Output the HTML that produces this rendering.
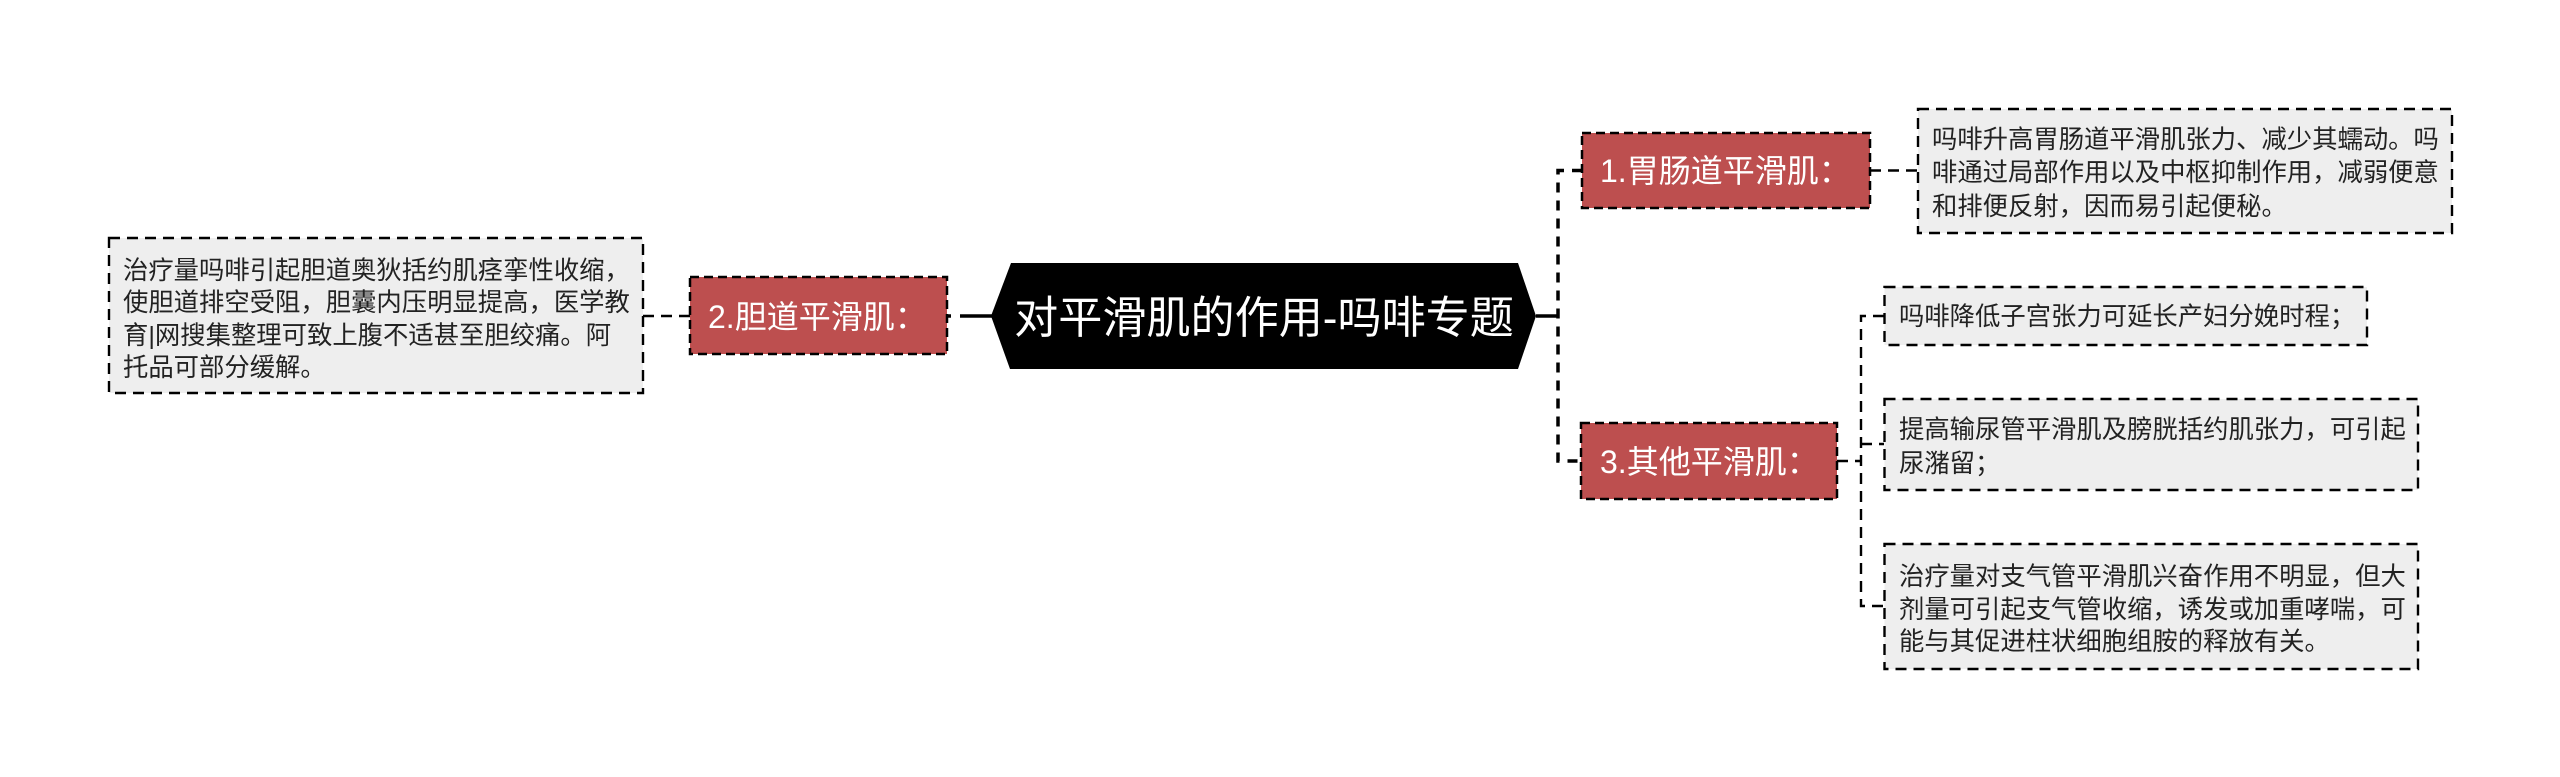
<!DOCTYPE html>
<html><head><meta charset="utf-8"><style>
html,body{margin:0;padding:0;background:#fff;width:2560px;height:777px;overflow:hidden}
svg{display:block}
text{font-family:"Liberation Sans","Noto Sans CJK SC",sans-serif}
.t{font-size:25.35px;fill:#222}
.b{font-size:32px;fill:#fff}
</style></head><body>
<svg width="2560" height="777" viewBox="0 0 2560 777" xmlns="http://www.w3.org/2000/svg">
<rect width="2560" height="777" fill="#fff"/>
<!-- connectors -->
<g fill="none" stroke="#000" stroke-width="3.5">
<path d="M1536 316H1558"/>
<path d="M992 316H960"/>
<path d="M951 316H946"/>
<path d="M1582 170.5H1558V461H1581" stroke-dasharray="10 8"/>
</g>
<g fill="none" stroke="#000" stroke-width="2.4" stroke-dasharray="11 7">
<path d="M643 316H690"/>
<path d="M1870 170.5H1918"/>
<path d="M1837 461H1861"/>
<path d="M1884 316H1861V606H1884"/>
<path d="M1861 444H1884"/>
</g>
<!-- center -->
<polygon points="991,316 1011,263 1518,263 1536,316 1518,369 1010,369" fill="#000"/>
<text x="1264" y="333" text-anchor="middle" font-size="44.1" fill="#fff">对平滑肌的作用-吗啡专题</text>
<!-- branches -->
<g fill="#bd4f4f" stroke="#000" stroke-width="2.5" stroke-dasharray="9 5">
<rect x="1582" y="133" width="288" height="75"/>
<rect x="1581" y="423" width="256" height="76"/>
<rect x="690" y="277" width="257" height="77"/>
</g>
<text class="b" x="1600" y="182">1.胃肠道平滑肌：</text>
<text class="b" x="1600" y="473">3.其他平滑肌：</text>
<text class="b" x="708" y="328">2.胆道平滑肌：</text>
<!-- text boxes -->
<g fill="#eeeeee" stroke="#000" stroke-width="2.4" stroke-dasharray="11 7">
<rect x="109" y="238" width="534" height="155"/>
<rect x="1918" y="109" width="534" height="124"/>
<rect x="1884.5" y="287" width="482.5" height="58"/>
<rect x="1884.5" y="399" width="533.5" height="91"/>
<rect x="1884.5" y="544" width="533.5" height="125"/>
</g>
<g class="t">
<text class="t" x="123" y="279">治疗量吗啡引起胆道奥狄括约肌痉挛性收缩，</text>
<text class="t" x="123" y="311">使胆道排空受阻，胆囊内压明显提高，医学教</text>
<text class="t" x="123" y="344">育|网搜集整理可致上腹不适甚至胆绞痛。阿</text>
<text class="t" x="123" y="376">托品可部分缓解。</text>
<text class="t" x="1932" y="148">吗啡升高胃肠道平滑肌张力、减少其蠕动。吗</text>
<text class="t" x="1932" y="181">啡通过局部作用以及中枢抑制作用，减弱便意</text>
<text class="t" x="1932" y="215">和排便反射，因而易引起便秘。</text>
<text class="t" x="1899" y="325">吗啡降低子宫张力可延长产妇分娩时程；</text>
<text class="t" x="1899" y="438">提高输尿管平滑肌及膀胱括约肌张力，可引起</text>
<text class="t" x="1899" y="472">尿潴留；</text>
<text class="t" x="1899" y="585">治疗量对支气管平滑肌兴奋作用不明显，但大</text>
<text class="t" x="1899" y="618">剂量可引起支气管收缩，诱发或加重哮喘，可</text>
<text class="t" x="1899" y="650">能与其促进柱状细胞组胺的释放有关。</text>
</g>
</svg>
</body></html>
